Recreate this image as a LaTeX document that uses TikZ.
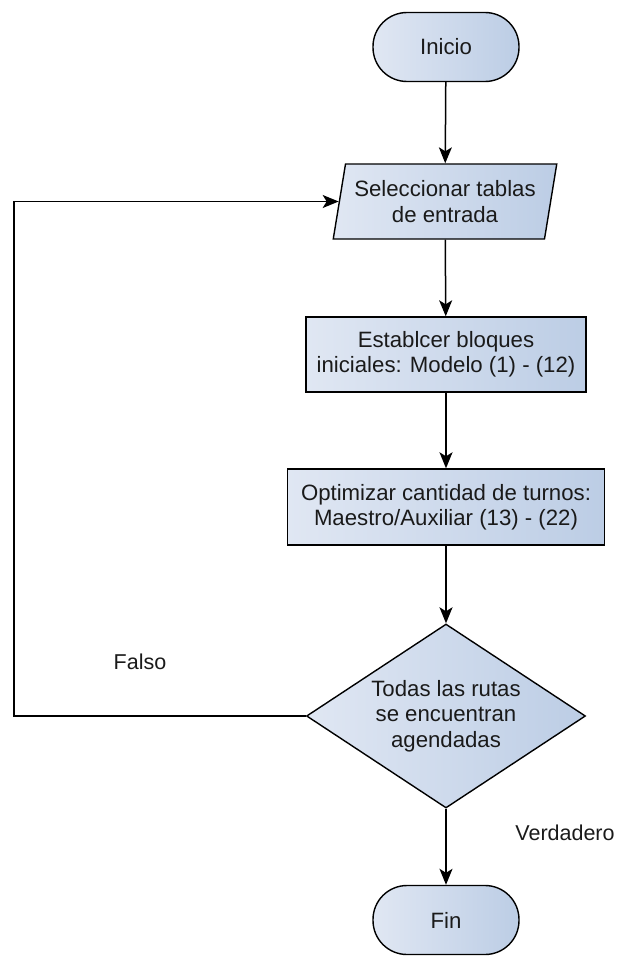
\documentclass[tikz,border=0pt]{standalone}
\usepackage{fontspec}
\setmainfont{Liberation Sans}
\usetikzlibrary{shapes.geometric,arrows.meta}
\definecolor{fillA}{HTML}{E0E7F3}
\definecolor{fillB}{HTML}{BCCDE5}
\definecolor{ink}{HTML}{1A1A1A}
\tikzset{
  base/.style={draw=black, line width=1.4pt, left color=fillA, right color=fillB,
    text=ink, align=center, inner sep=2pt,
    font=\fontsize{22.2}{25.5}\selectfont},
  terminal/.style={base, rectangle, rounded corners=34pt, minimum width=146pt, minimum height=69pt},
  io/.style={base, trapezium, trapezium left angle=76, trapezium right angle=104,
    trapezium stretches=true, minimum width=224pt, minimum height=75pt},
  process/.style={base, rectangle},
  decision/.style={base, diamond, aspect=1.516, inner sep=0pt, minimum width=279pt, minimum height=184pt},
  flow/.style={line width=1.5pt, -{Stealth[length=16pt,width=13pt,inset=4pt]}},
  label/.style={text=ink, font=\fontsize{21.5}{25}\selectfont}
}
\begin{document}
\begin{tikzpicture}[x=1pt,y=-1pt]
  \useasboundingbox (0,0) rectangle (619,961);

  \node[terminal] (inicio) at (446,47) {Inicio};
  \node[io] (sel) at (445,201.5) {Seleccionar tablas\\de entrada};
  \node[process, minimum width=280pt, minimum height=75pt] (est) at (446,354.5)
    {Establcer bloques\\iniciales: Modelo (1) - (12)};
  \node[process, minimum width=317pt, minimum height=76pt] (opt) at (446,507)
    {Optimizar cantidad de turnos:\\Maestro/Auxiliar (13) - (22)};
  \node[decision] (dec) at (446,716) {Todas las rutas\\se encuentran\\agendadas};
  \node[terminal] (fin) at (446,920) {Fin};

  \coordinate (corner) at (14,716);

  \draw[flow] (inicio) -- (sel);
  \draw[flow] (sel) -- (est);
  \draw[flow] (est) -- (opt);
  \draw[flow] (opt) -- (dec);
  \draw[flow] (dec) -- (fin);
  \draw[flow] (dec.west) -- (corner) |- (sel.west);

  \node[label] (falso) at (140,662) {Falso};
  \node[label] (verd) at (565,833) {Verdadero};
\end{tikzpicture}
\end{document}
